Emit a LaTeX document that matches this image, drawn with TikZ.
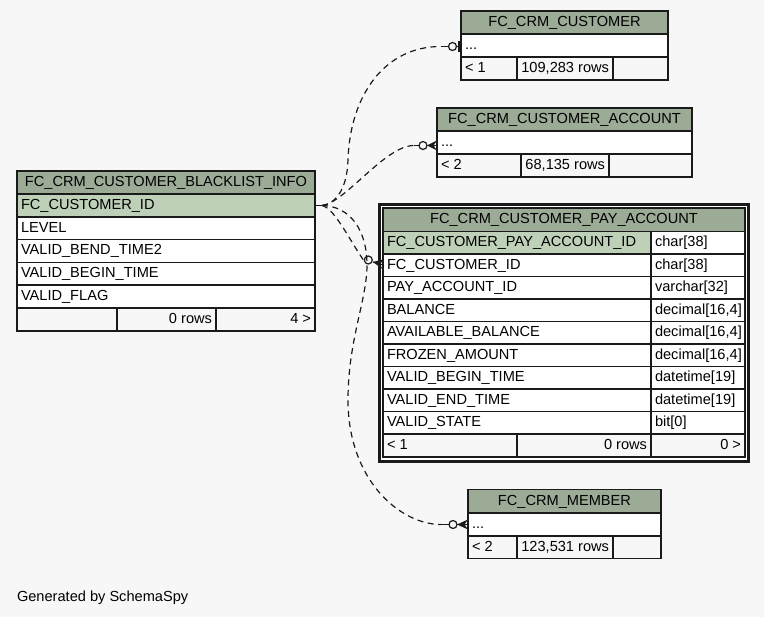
\documentclass[tikz,border=0pt]{standalone}
\usepackage{fontspec}
\setmainfont{Liberation Sans}
\definecolor{bg}{HTML}{F7F7F7}
\definecolor{hdr}{HTML}{9BAB96}
\definecolor{pk}{HTML}{BED1B8}
\definecolor{ln}{HTML}{1A1A1A}
\tikzset{
  cellbox/.style={draw=ln, line width=1.4pt, inner sep=0pt, outer sep=0pt, anchor=north west},
  celltxt/.style={inner sep=0pt, outer sep=0pt, text=black, font=\fontsize{14.6}{17}\selectfont},
  conn/.style={draw=ln, line width=1.2pt, dash pattern=on 6pt off 4.5pt},
  solidc/.style={draw=ln, line width=1.2pt},
  ring/.style={draw=ln, line width=1.2pt, fill=bg},
}
% name x y w h fill text
\newcommand\cellL[7]{\node[cellbox, fill=#6, minimum width=#4pt, minimum height=#5pt] (#1) at (#2,#3) {};
  \node[celltxt, anchor=base west] (#1t) at ([xshift=4pt,yshift=-3.8pt]#1.west) {#7};}
\newcommand\cellR[7]{\node[cellbox, fill=#6, minimum width=#4pt, minimum height=#5pt] (#1) at (#2,#3) {};
  \node[celltxt, anchor=base east] (#1t) at ([xshift=-4pt,yshift=-3.8pt]#1.east) {#7};}
\newcommand\cellC[7]{\node[cellbox, fill=#6, minimum width=#4pt, minimum height=#5pt] (#1) at (#2,#3) {};
  \node[celltxt, anchor=base] (#1t) at ([yshift=-3.8pt]#1.center) {#7};}
\begin{document}
\begin{tikzpicture}[x=1pt,y=-1pt]
\useasboundingbox (0,0) rectangle (764,617);
\fill[bg] (0,0) rectangle (764,617);

% FC_CRM_CUSTOMER_BLACKLIST_INFO
\cellC{bl0}{17}{171}{298}{23}{hdr}{FC\_CRM\_CUSTOMER\_BLACKLIST\_INFO}
\cellL{bl1}{17}{194}{298}{23}{pk}{FC\_CUSTOMER\_ID}
\cellL{bl2}{17}{217}{298}{22.5}{white}{LEVEL}
\cellL{bl3}{17}{239.5}{298}{23}{white}{VALID\_BEND\_TIME2}
\cellL{bl4}{17}{262.5}{298}{22.5}{white}{VALID\_BEGIN\_TIME}
\cellL{bl5}{17}{285}{298}{23}{white}{VALID\_FLAG}
\cellL{blf1}{17}{308}{100}{23}{bg}{}
\cellR{blf2}{117}{308}{99}{23}{bg}{0 rows}
\cellR{blf3}{216}{308}{99}{23}{bg}{4 >}

% FC_CRM_CUSTOMER
\cellC{cu0}{461}{11}{207}{23}{hdr}{FC\_CRM\_CUSTOMER}
\cellL{cu1}{461}{34}{207}{23}{white}{...}
\cellL{cuf1}{461}{57}{56}{23}{bg}{< 1}
\cellR{cuf2}{517}{57}{96}{23}{bg}{109,283 rows}
\cellL{cuf3}{613}{57}{55}{23}{bg}{}

% FC_CRM_CUSTOMER_ACCOUNT
\cellC{ac0}{437}{108}{255}{23}{hdr}{FC\_CRM\_CUSTOMER\_ACCOUNT}
\cellL{ac1}{437}{131}{255}{23}{white}{...}
\cellL{acf1}{437}{154}{84}{23}{bg}{< 2}
\cellR{acf2}{521}{154}{88}{23}{bg}{68,135 rows}
\cellL{acf3}{609}{154}{83}{23}{bg}{}

% FC_CRM_MEMBER
\cellC{me0}{468}{489.5}{193}{23.5}{hdr}{FC\_CRM\_MEMBER}
\cellL{me1}{468}{513}{193}{23}{white}{...}
\cellL{mef1}{468}{536}{49}{22.5}{bg}{< 2}
\cellR{mef2}{517}{536}{96}{22.5}{bg}{123,531 rows}
\cellL{mef3}{613}{536}{48}{22.5}{bg}{}

% FC_CRM_CUSTOMER_PAY_ACCOUNT
\node[draw=ln, line width=3pt, fill=white, inner sep=0pt, outer sep=0pt, anchor=north west,
      minimum width=369pt, minimum height=257pt] (paframe) at (379.5,204.5) {};
\cellC{pa0}{383}{208}{362}{23.5}{hdr}{FC\_CRM\_CUSTOMER\_PAY\_ACCOUNT}
\cellL{pa1}{383}{231.5}{268}{22.5}{pk}{FC\_CUSTOMER\_PAY\_ACCOUNT\_ID}
\cellL{pa1y}{651}{231.5}{94}{22.5}{white}{char[38]}
\cellL{pa2}{383}{254}{268}{22.5}{white}{FC\_CUSTOMER\_ID}
\cellL{pa2y}{651}{254}{94}{22.5}{white}{char[38]}
\cellL{pa3}{383}{276.5}{268}{22.5}{white}{PAY\_ACCOUNT\_ID}
\cellL{pa3y}{651}{276.5}{94}{22.5}{white}{varchar[32]}
\cellL{pa4}{383}{299}{268}{22.5}{white}{BALANCE}
\cellL{pa4y}{651}{299}{94}{22.5}{white}{decimal[16,4]}
\cellL{pa5}{383}{321.5}{268}{22.5}{white}{AVAILABLE\_BALANCE}
\cellL{pa5y}{651}{321.5}{94}{22.5}{white}{decimal[16,4]}
\cellL{pa6}{383}{344}{268}{22.5}{white}{FROZEN\_AMOUNT}
\cellL{pa6y}{651}{344}{94}{22.5}{white}{decimal[16,4]}
\cellL{pa7}{383}{366.5}{268}{22.5}{white}{VALID\_BEGIN\_TIME}
\cellL{pa7y}{651}{366.5}{94}{22.5}{white}{datetime[19]}
\cellL{pa8}{383}{389}{268}{22.5}{white}{VALID\_END\_TIME}
\cellL{pa8y}{651}{389}{94}{22.5}{white}{datetime[19]}
\cellL{pa9}{383}{411.5}{268}{22.5}{white}{VALID\_STATE}
\cellL{pa9y}{651}{411.5}{94}{22.5}{white}{bit[0]}
\cellL{paf1}{383}{434}{134}{23}{bg}{< 1}
\cellR{paf2}{517}{434}{134}{23}{bg}{0 rows}
\cellR{paf3}{651}{434}{94}{23}{bg}{0 >}

\node[celltxt, anchor=base west] (gen) at (17,601.5) {Generated by SchemaSpy};

% connector coordinates
\coordinate (s) at ([xshift=7pt]bl1.east);
\coordinate (o1) at ([xshift=-8.5pt,yshift=-1pt]cu1.west);
\coordinate (o2) at ([xshift=-14pt,yshift=-3pt]ac1.west);
\coordinate (o3) at (368.3,260);
\coordinate (o4) at ([xshift=-15pt]me1.west);

% rings
\draw[ring] (o1) circle (4pt);
\draw[ring] (o2) circle (4pt);
\draw[ring] (o3) circle (4pt);
\draw[ring] (o4) circle (4pt);

% connectors
\draw[solidc] (bl1.east) -- (s);
\draw[conn] (s) .. controls (335,204) and (347,190) .. (348,160)
  .. controls (350,95) and (385,46.5) .. ([xshift=-12pt]o1);
\draw[solidc] ([xshift=-12pt]o1) -- ([xshift=-4pt]o1);
\draw[conn] (s) .. controls (345,203) and (385,145.5) .. ([xshift=-9pt]o2);
\draw[solidc] ([xshift=-9pt]o2) -- ([xshift=-4pt]o2);
\draw[conn] (s) .. controls (335,208) and (352,245) .. ([xshift=-3pt,yshift=-2.5pt]o3);
\draw[conn] (s) .. controls (350,206) and (367,230) .. (367,265)
  .. controls (367,300) and (348,340) .. (348,400)
  .. controls (348,480) and (400,524.5) .. ([xshift=-12pt]o4);
\draw[solidc] ([xshift=-12pt]o4) -- ([xshift=-4pt]o4);

% end marks
\fill[ln] ([xshift=-3.5pt,yshift=5.5pt]cu1.west |- o1) rectangle ([yshift=-5.5pt]cu1.west |- o1);
\draw[solidc] ([xshift=4pt]o1) -- (cu1.west |- o1);
\fill[ln] ([xshift=4pt]o2) -- ([yshift=5pt]ac1.west |- o2) -- ([xshift=-3.5pt]ac1.west |- o2) -- ([yshift=-5pt]ac1.west |- o2) -- cycle;
\draw[solidc] ([xshift=4pt]o2) -- (ac1.west |- o2);
\fill[ln] (373,262) -- (383,259.5) -- (380,265) -- (383,269.5) -- cycle;
\draw[solidc] (373,262) -- (383,265);
\fill[ln] ([xshift=4pt]o4) -- ([yshift=5pt]me1.west |- o4) -- ([xshift=-3.5pt]me1.west |- o4) -- ([yshift=-5pt]me1.west |- o4) -- cycle;
\draw[solidc] ([xshift=4pt]o4) -- (me1.west |- o4);
\end{tikzpicture}
\end{document}
